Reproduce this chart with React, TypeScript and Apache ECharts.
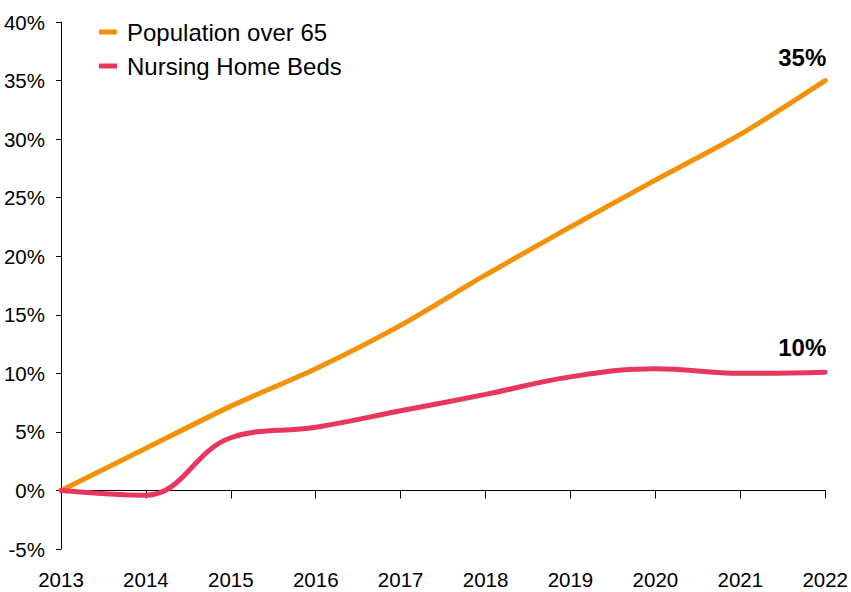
import React, { useEffect, useRef } from "react";
import * as echarts from "echarts";

const years = ["2013", "2014", "2015", "2016", "2017", "2018", "2019", "2020", "2021", "2022"];
const population65 = [0, 3.6, 7.2, 10.4, 14.1, 18.4, 22.5, 26.5, 30.4, 35.0];
const nursingBeds = [0, -0.4, 4.5, 5.4, 6.8, 8.2, 9.7, 10.4, 10.0, 10.1];
const seriesNames = ["Population over 65", "Nursing Home Beds"];
const endLabels = ["35%", "10%"];

const ORANGE = "#f39209";
const PINK = "#e8365d";
const FONT = "'Liberation Sans', Arial, Helvetica, sans-serif";

function withEndLabel(values: number[], text: string, dy: number) {
  return values.map((v, i) =>
    i === values.length - 1
      ? {
          value: v,
          label: {
            show: true,
            formatter: text,
            position: "top",
            offset: [-23, dy],
            fontFamily: FONT,
            fontSize: 24,
            fontWeight: "bold",
            color: "#000",
          },
        }
      : v
  );
}

export default function App() {
  const ref = useRef<HTMLDivElement>(null);
  useEffect(() => {
    if (!ref.current) return;
    const chart = echarts.init(ref.current, null, { renderer: "svg" });
    chart.setOption({
      animation: false,
      backgroundColor: "#fff",
      grid: { left: 61, right: 22, top: 22, bottom: 43, containLabel: false },
      legend: {
        orient: "vertical",
        left: 99,
        top: 20,
        padding: 0,
        itemWidth: 18,
        itemHeight: 5,
        itemGap: 10,
        icon: "rect",
        textStyle: { fontFamily: FONT, fontSize: 24, color: "#000", padding: [0, 0, 0, 5] },
        data: seriesNames,
      },
      xAxis: [
        {
          type: "category",
          data: years,
          boundaryGap: false,
          axisLine: { onZero: true, lineStyle: { color: "#000", width: 1 } },
          axisTick: { show: true, alignWithLabel: true, length: 8, lineStyle: { color: "#000" } },
          axisLabel: { show: false },
          splitLine: { show: false },
        },
        {
          type: "category",
          data: years,
          boundaryGap: false,
          position: "bottom",
          axisLine: { show: false, onZero: false },
          axisTick: { show: false },
          axisLabel: { show: true, margin: 20, fontFamily: FONT, fontSize: 20.5, color: "#000" },
          splitLine: { show: false },
        },
      ],
      yAxis: {
        type: "value",
        min: -5,
        max: 40,
        interval: 5,
        axisLine: { show: true, lineStyle: { color: "#000", width: 1 } },
        axisTick: { show: true, length: 5, lineStyle: { color: "#000" } },
        axisLabel: {
          margin: 16,
          fontFamily: FONT,
          fontSize: 20.5,
          color: "#000",
          formatter: (v: number) => `${v}%`,
        },
        splitLine: { show: false },
      },
      series: [
        {
          name: seriesNames[0],
          type: "line",
          data: withEndLabel(population65, endLabels[0], -6),
          smooth: 0.25,
          showSymbol: true,
          symbol: "circle",
          symbolSize: 0,
          lineStyle: { color: ORANGE, width: 5, cap: "round" },
          itemStyle: { color: ORANGE },
        },
        {
          name: seriesNames[1],
          type: "line",
          data: withEndLabel(nursingBeds, endLabels[1], -8),
          smooth: 0.4,
          showSymbol: true,
          symbol: "circle",
          symbolSize: 0,
          lineStyle: { color: PINK, width: 5, cap: "round" },
          itemStyle: { color: PINK },
        },
      ],
    });
    return () => chart.dispose();
  }, []);
  return (
    <div
      ref={ref}
      style={{ position: "absolute", left: 0, top: 0, width: 851, height: 592, background: "#fff" }}
    />
  );
}
